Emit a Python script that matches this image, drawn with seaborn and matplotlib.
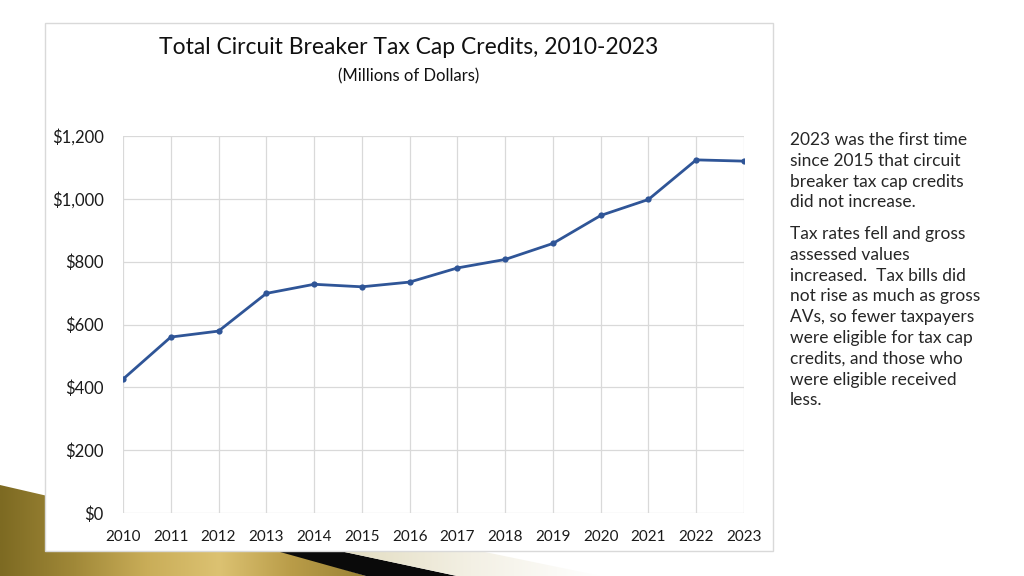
import numpy as np
import pandas as pd
import matplotlib
matplotlib.use("Agg")
import matplotlib.pyplot as plt
import seaborn as sns
from matplotlib.patches import Polygon, Rectangle
from matplotlib.ticker import FuncFormatter

years = [2010, 2011, 2012, 2013, 2014, 2015, 2016, 2017, 2018, 2019, 2020, 2021, 2022, 2023]
credits = [426, 560, 579, 699, 728, 720, 735, 780, 807, 858, 947, 998, 1124, 1120]
y_ticks = [0, 200, 400, 600, 800, 1000, 1200]

title = "Total Circuit Breaker Tax Cap Credits, 2010-2023"
subtitle = "(Millions of Dollars)"
note1 = "2023 was the first time\nsince 2015 that circuit\nbreaker tax cap credits\ndid not increase."
note2 = ("Tax rates fell and gross\nassessed values\nincreased.  Tax bills did\n"
         "not rise as much as gross\nAVs, so fewer taxpayers\nwere eligible for tax cap\n"
         "credits, and those who\nwere eligible received\nless.")

df = pd.DataFrame({"year": years, "credits": credits})

sns.set_theme(style="white")
plt.rcParams["font.family"] = ["Lato", "DejaVu Sans"]

W, H = 1024, 576
fig = plt.figure(figsize=(W / 100, H / 100), dpi=100)
fig.patch.set_facecolor("white")

# background decoration layer in pixel coordinates
bg = fig.add_axes([0, 0, 1, 1], zorder=0)
bg.set_xlim(0, W)
bg.set_ylim(H, 0)
bg.axis("off")

gold_poly = Polygon([(0, 485), (281, 550), (366, 576), (0, 576)], closed=True,
                    facecolor="none", edgecolor="none")
bg.add_patch(gold_poly)
grad = np.linspace(0, 1, 256)
gx = np.tile(grad, (32, 1))
gold_cmap = matplotlib.colors.LinearSegmentedColormap.from_list(
    "gold", ["#7d6a22", "#a08838", "#c9ad58", "#dcc272", "#b99c48", "#9a8234"])
im = bg.imshow(gx, cmap=gold_cmap, extent=(0, 366, 576, 485), aspect="auto", zorder=1)
im.set_clip_path(gold_poly)
bg.add_patch(Polygon([(230, 538), (340, 551), (457, 576), (366, 576)], closed=True,
                     facecolor="#0a0a0a", edgecolor="none", zorder=2))
cream_poly = Polygon([(340, 551), (480, 551), (601, 576), (457, 576)], closed=True,
                     facecolor="none", edgecolor="none")
bg.add_patch(cream_poly)
cmap_c = matplotlib.colors.LinearSegmentedColormap.from_list("cream", ["#e2dcc0", "#f3f0e4", "#ffffff"])
im2 = bg.imshow(gx, cmap=cmap_c, extent=(340, 601, 576, 551), aspect="auto", zorder=2)
im2.set_clip_path(cream_poly)

# white chart box
bg.add_patch(Rectangle((45, 23), 728, 528, facecolor="white", edgecolor="#d9d9d9",
                       linewidth=1.0, zorder=3))

# main chart
ax = fig.add_axes([123 / W, 1 - 513 / H, (744 - 123) / W, (513 - 136) / H], zorder=2)
ax.patch.set_alpha(0)
sns.lineplot(data=df, x="year", y="credits", ax=ax, color="#2f5597", linewidth=2.0,
             marker="o", markersize=4.5, markeredgewidth=0, zorder=3)
ax.set_xlim(years[0], years[-1])
ax.set_ylim(0, 1200)
ax.set_xticks(years)
ax.set_xticklabels([str(y) for y in years])
ax.set_yticks(y_ticks)
ax.yaxis.set_major_formatter(FuncFormatter(lambda v, p: f"${int(v):,}"))
ax.grid(True, color="#d9d9d9", linewidth=0.9)
for s in ax.spines.values():
    s.set_visible(False)
ax.tick_params(axis="x", length=0, pad=12.5, labelsize=11, labelcolor="#1a1a1a")
ax.tick_params(axis="y", length=0, pad=14, labelsize=12, labelcolor="#1a1a1a")
ax.set_xlabel("")
ax.set_ylabel("")

fig.text(409 / W, 1 - 48 / H, title, ha="center", va="center", fontsize=16.5, color="#111111")
fig.text(409 / W, 1 - 76 / H, subtitle, ha="center", va="center", fontsize=12, color="#111111")

fig.text(790 / W, 1 - 132 / H, note1, ha="left", va="top", fontsize=12.5, color="#262626",
         linespacing=1.37)
fig.text(790 / W, 1 - 226 / H, note2, ha="left", va="top", fontsize=12.5, color="#262626",
         linespacing=1.37)

fig.savefig("out.png", dpi=100, facecolor="white")
